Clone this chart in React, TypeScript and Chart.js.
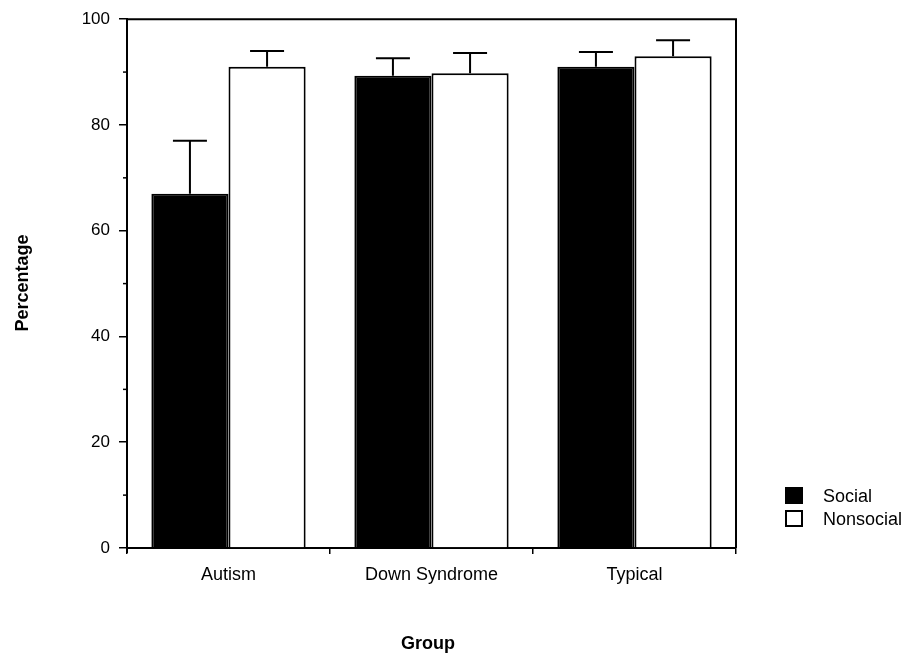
import React, { useEffect, useRef } from "react";
import { Chart, registerables } from "chart.js";

Chart.register(...registerables);

const categories = ["Autism", "Down Syndrome", "Typical"];
const seriesLabels = ["Social", "Nonsocial"];
const socialValues = [67, 89.3, 91];
const socialErrors = [10, 3.3, 2.8];
const nonsocialValues = [91, 89.8, 93];
const nonsocialErrors = [3, 3.8, 3];
const yMin = 0;
const yMax = 100;
const yMajorStep = 20;
const yMinorTicks = [10, 30, 50, 70, 90];
const xTitle = "Group";
const yTitle = "Percentage";

const FONT = "'Liberation Sans', Arial, Helvetica, sans-serif";

const decorPlugin = {
  id: "decor",
  afterDraw(chart: any) {
    const ctx = chart.ctx;
    const { left, right, top, bottom } = chart.chartArea;
    const yScale = chart.scales.y;
    ctx.save();
    ctx.strokeStyle = "#000";
    ctx.lineWidth = 2;
    // frame top & right
    ctx.beginPath();
    ctx.moveTo(left, top);
    ctx.lineTo(right, top);
    ctx.lineTo(right, bottom);
    ctx.stroke();
    // y axis slight overshoot below zero
    ctx.beginPath();
    ctx.moveTo(left, bottom);
    ctx.lineTo(left, bottom + 5);
    ctx.stroke();
    // minor ticks
    ctx.lineWidth = 1.5;
    yMinorTicks.forEach((v) => {
      const py = yScale.getPixelForValue(v);
      ctx.beginPath();
      ctx.moveTo(left - 4, py);
      ctx.lineTo(left, py);
      ctx.stroke();
    });
    // error bars
    const errs = [socialErrors, nonsocialErrors];
    const vals = [socialValues, nonsocialValues];
    ctx.lineWidth = 2;
    [0, 1].forEach((d) => {
      const meta = chart.getDatasetMeta(d);
      meta.data.forEach((el: any, i: number) => {
        const x = el.x;
        const y0 = el.y;
        const y1 = yScale.getPixelForValue(vals[d][i] + errs[d][i]);
        ctx.beginPath();
        ctx.moveTo(x, y0);
        ctx.lineTo(x, y1);
        ctx.moveTo(x - 17, y1);
        ctx.lineTo(x + 17, y1);
        ctx.stroke();
      });
    });
    // axis titles
    ctx.fillStyle = "#000";
    ctx.font = `bold 18px ${FONT}`;
    ctx.textAlign = "center";
    ctx.textBaseline = "alphabetic";
    ctx.fillText(xTitle, 428, 649);
    ctx.save();
    ctx.translate(28, 283);
    ctx.rotate(-Math.PI / 2);
    ctx.fillText(yTitle, 0, 0);
    ctx.restore();
    // legend
    ctx.font = `18px ${FONT}`;
    ctx.textAlign = "left";
    const fills = ["#000", "#fff"];
    seriesLabels.forEach((lab, i) => {
      const sy = 488 + i * 23;
      ctx.fillStyle = fills[i];
      ctx.fillRect(786, sy, 16, 15);
      ctx.strokeStyle = "#000";
      ctx.lineWidth = 2;
      ctx.strokeRect(786, sy, 16, 15);
      ctx.fillStyle = "#000";
      ctx.fillText(lab, 823, sy + 14);
    });
    ctx.restore();
  },
};

export default function App() {
  const ref = useRef<HTMLCanvasElement>(null);
  useEffect(() => {
    if (!ref.current) return;
    const chart = new Chart(ref.current, {
      type: "bar",
      data: {
        labels: categories,
        datasets: [
          {
            label: seriesLabels[0],
            data: socialValues,
            backgroundColor: "#000",
            borderColor: "#000",
            borderWidth: 2,
            categoryPercentage: 0.76,
            barPercentage: 1,
          },
          {
            label: seriesLabels[1],
            data: nonsocialValues,
            backgroundColor: "#fff",
            borderColor: "#000",
            borderWidth: 2,
            categoryPercentage: 0.76,
            barPercentage: 1,
          },
        ],
      },
      options: {
        responsive: false,
        animation: false,
        layout: { padding: { left: 0, top: 17, right: 171, bottom: 0 } },
        plugins: {
          legend: { display: false },
          tooltip: { enabled: false },
        },
        scales: {
          x: {
            afterFit: (s: any) => {
              s.height = 105;
            },
            border: { display: true, color: "#000", width: 2 },
            grid: {
              display: true,
              offset: true,
              drawOnChartArea: false,
              drawTicks: true,
              tickLength: 6,
              color: "#000",
              lineWidth: 1.5,
            },
            ticks: {
              color: "#000",
              font: { family: FONT, size: 18 },
              padding: 10,
              maxRotation: 0,
            },
          },
          y: {
            min: yMin,
            max: yMax,
            afterFit: (s: any) => {
              s.width = 127;
            },
            border: { display: true, color: "#000", width: 2 },
            grid: {
              display: true,
              drawOnChartArea: false,
              drawTicks: true,
              tickLength: 8,
              color: "#000",
              lineWidth: 1.5,
            },
            ticks: {
              stepSize: yMajorStep,
              color: "#000",
              font: { family: FONT, size: 17 },
              padding: 9,
            },
          },
        },
      },
      plugins: [decorPlugin],
    });
    return () => chart.destroy();
  }, []);
  return (
    <div style={{ position: "absolute", left: 0, top: 0, width: 907, height: 653, background: "#fff" }}>
      <canvas ref={ref} width={907} height={653} style={{ display: "block" }} />
    </div>
  );
}
